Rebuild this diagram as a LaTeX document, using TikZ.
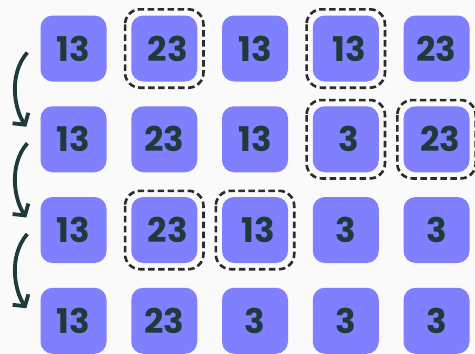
\documentclass[tikz,border=0pt]{standalone}
\usepackage{fontspec}
\setmainfont{Poppins}
\usetikzlibrary{arrows.meta,calc}
\definecolor{bg}{HTML}{FAFAFA}
\definecolor{boxc}{HTML}{8080FF}
\definecolor{ink}{HTML}{1F3A3D}
\definecolor{dashc}{HTML}{2B2B2B}
\begin{document}
\begin{tikzpicture}[x=1pt,y=-1pt,
 cell/.style={fill=boxc, rounded corners=12pt, minimum size=66pt, inner sep=0pt, text=ink, font=\fontsize{34}{34}\selectfont\bfseries},
 chosen/.style={cell, execute at begin node=\hspace*{7pt}},
 ring/.style={draw=dashc, line width=2.6pt, dash pattern=on 6.5pt off 3.5pt, rounded corners=15pt},
 flow/.style={draw=ink, line width=3.8pt, -{Straight Barb[length=8pt,width=19pt]}}]
\fill[bg] (0,0) rectangle (475,354);
\useasboundingbox (0,0) rectangle (475,354);
% row 1
\node[cell]   (r1c1) at (73.5,48.5) {13};
\node[chosen] (r1c2) at (164.25,48.5) {23};
\node[cell]   (r1c3) at (255,48.5) {13};
\node[chosen] (r1c4) at (345.75,48.5) {13};
\node[cell]   (r1c5) at (436.5,48.5) {23};
% row 2
\node[cell]   (r2c1) at (73.5,139.25) {13};
\node[cell]   (r2c2) at (164.25,139.25) {23};
\node[cell]   (r2c3) at (255,139.25) {13};
\node[chosen] (r2c4) at (345.75,139.25) {3};
\node[chosen] (r2c5) at (436.5,139.25) {23};
% row 3
\node[cell]   (r3c1) at (73.5,230) {13};
\node[chosen] (r3c2) at (164.25,230) {23};
\node[chosen] (r3c3) at (255,230) {13};
\node[cell]   (r3c4) at (345.75,230) {3};
\node[cell]   (r3c5) at (436.5,230) {3};
% row 4
\node[cell]   (r4c1) at (73.5,320.75) {13};
\node[cell]   (r4c2) at (164.25,320.75) {23};
\node[cell]   (r4c3) at (255,320.75) {3};
\node[cell]   (r4c4) at (345.75,320.75) {3};
\node[cell]   (r4c5) at (436.5,320.75) {3};
% dashed rings
\foreach \n in {r1c2,r1c4,r2c4,r2c5,r3c2,r3c3}{
  \draw[ring] ($(\n.north west)+(-6pt,6pt)$) rectangle ($(\n.south east)+(6pt,-6pt)$);
}
% arrows
\coordinate (a1s) at ($(r1c1.west)+(-13,4)$);
\coordinate (a1e) at ($(r2c1.west)+(-14,-12.5)$);
\coordinate (a2s) at ($(r2c1.west)+(-13,4)$);
\coordinate (a2e) at ($(r3c1.west)+(-14,-12.5)$);
\coordinate (a3s) at ($(r3c1.west)+(-13,4)$);
\coordinate (a3e) at ($(r4c1.west)+(-14,-12.5)$);
\draw[flow] (a1s) .. controls +(-19,22) and +(-12,-18) .. (a1e);
\draw[flow] (a2s) .. controls +(-19,22) and +(-12,-18) .. (a2e);
\draw[flow] (a3s) .. controls +(-19,22) and +(-12,-18) .. (a3e);
\end{tikzpicture}
\end{document}
